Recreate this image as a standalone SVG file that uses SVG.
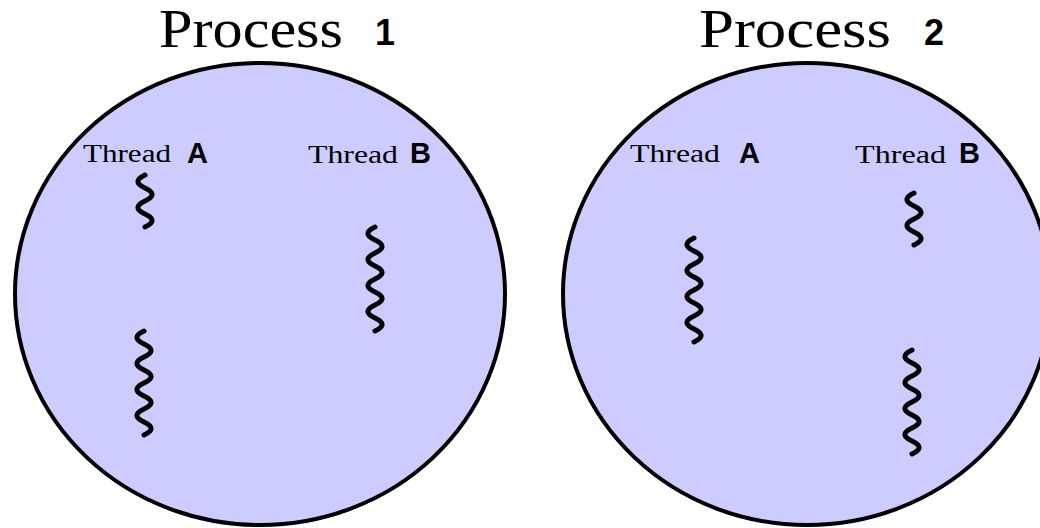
<svg xmlns="http://www.w3.org/2000/svg" xmlns:xlink="http://www.w3.org/1999/xlink" width="1040" height="528" viewBox="0 0 1040 528">
  <style>
    .proc { fill: #ccccff; stroke: #000; stroke-width: 4; }
    .title { font-family: "Liberation Serif", "Times New Roman", serif; font-size: 55px; fill: #000; }
    .num { font-family: "Liberation Sans", Arial, sans-serif; font-weight: bold; font-size: 36px; fill: #000; text-anchor: middle; }
    .lbl { font-family: "Liberation Serif", "Times New Roman", serif; font-size: 26px; fill: #000; }
    .tid { font-family: "Liberation Sans", Arial, sans-serif; font-weight: bold; font-size: 29px; fill: #000; }
    .wave { fill: none; stroke: #000; stroke-width: 5; stroke-linecap: round; stroke-linejoin: round; }
  </style>
  <defs>
    <!-- thread squiggles: each half-wave is 13px tall, bulging about 7px either side -->
    <path id="waveShort" class="wave" d="M0,0 c -9.5,4.5 -9.5,8.5 0,13 s 9.5,8.5 0,13 s -9.5,8.5 0,13 s 9.5,8.5 0,13"/>
    <path id="waveLong" class="wave" d="M0,0 c -9.5,4.5 -9.5,8.5 0,13 s 9.5,8.5 0,13 s -9.5,8.5 0,13 s 9.5,8.5 0,13 s -9.5,8.5 0,13 s 9.5,8.5 0,13 s -9.5,8.5 0,13 s 9.5,8.5 0,13"/>
  </defs>

  <rect width="1040" height="528" fill="#fff"/>

  <!-- Process 1 -->
  <g id="process1">
    <ellipse class="proc" cx="260" cy="294" rx="245" ry="231"/>
    <text class="title" x="159" y="47" textLength="184" lengthAdjust="spacingAndGlyphs">Process</text>
    <text class="num" x="385" y="45">1</text>
    <g id="p1-threadA">
      <text class="lbl" x="83" y="162" textLength="88" lengthAdjust="spacingAndGlyphs">Thread</text>
      <text class="tid" x="187" y="163">A</text>
      <use xlink:href="#waveShort" x="145" y="175"/>
      <use xlink:href="#waveLong" x="144" y="331"/>
    </g>
    <g id="p1-threadB">
      <text class="lbl" x="308" y="163" textLength="90" lengthAdjust="spacingAndGlyphs">Thread</text>
      <text class="tid" x="410" y="163">B</text>
      <use xlink:href="#waveLong" x="375" y="227"/>
    </g>
  </g>

  <!-- Process 2 -->
  <g id="process2">
    <ellipse class="proc" cx="807" cy="294" rx="244" ry="231"/>
    <text class="title" x="699" y="47" textLength="192" lengthAdjust="spacingAndGlyphs">Process</text>
    <text class="num" x="934" y="45">2</text>
    <g id="p2-threadA">
      <text class="lbl" x="630" y="162" textLength="90" lengthAdjust="spacingAndGlyphs">Thread</text>
      <text class="tid" x="739" y="163">A</text>
      <use xlink:href="#waveLong" x="694" y="238"/>
    </g>
    <g id="p2-threadB">
      <text class="lbl" x="855" y="163" textLength="91" lengthAdjust="spacingAndGlyphs">Thread</text>
      <text class="tid" x="959" y="163">B</text>
      <use xlink:href="#waveShort" x="914" y="193"/>
      <use xlink:href="#waveLong" x="912" y="350"/>
    </g>
  </g>

  <!-- no connectors between processes -->
  <g id="connectors"/>
</svg>
